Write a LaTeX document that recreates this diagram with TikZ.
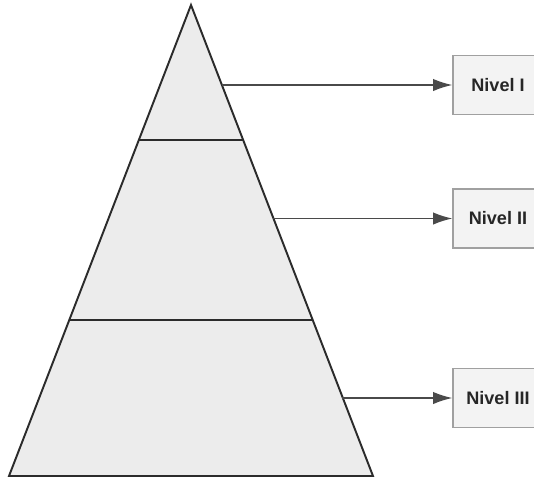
\documentclass[tikz,border=0pt]{standalone}
\usepackage{fontspec}
\newfontfamily\nivelfont{Liberation Sans}
\usetikzlibrary{arrows.meta}
\definecolor{pyrfill}{HTML}{ECECEC}
\definecolor{pyredge}{HTML}{2B2B2B}
\definecolor{boxfill}{HTML}{F3F3F3}
\definecolor{boxedge}{HTML}{A0A0A0}
\definecolor{arrowgray}{HTML}{4A4A4A}
\tikzset{
  nivel/.style={draw=boxedge, fill=boxfill, line width=0.6pt,
    minimum width=1.8cm, minimum height=1.18cm, inner sep=0pt,
    font=\nivelfont\bfseries\fontsize{10.3}{12}\selectfont, text=black!85},
  flecha/.style={draw=arrowgray, line width=0.9pt,
    -{Latex[length=11pt,width=7pt]}}
}
\begin{document}
\begin{tikzpicture}[x=0.02cm,y=-0.02cm]
\useasboundingbox (0,0) rectangle (534,478);
\clip (0,0) rectangle (534,478);
% Piramide
\coordinate (apex) at (191,5);
\coordinate (bl) at (9,476);
\coordinate (br) at (373,476);
\draw[fill=pyrfill, draw=pyredge, line width=1.1pt, line join=miter] (apex)--(br)--(bl)--cycle;
% Divisiones
\coordinate (d1l) at (139,140);
\coordinate (d1r) at (243,140);
\coordinate (d2l) at (70,320);
\coordinate (d2r) at (312,320);
\draw[pyredge, line width=1.1pt] (d1l)--(d1r);
\draw[pyredge, line width=1.1pt] (d2l)--(d2r);
% Niveles
\node[nivel] (n1) at (498,85) {Nivel I};
\node[nivel] (n2) at (498,218.5) {Nivel II};
\node[nivel] (n3) at (498,398) {Nivel III};
% Flechas
\coordinate (a1) at (221.5,85);
\coordinate (a2) at (273,218.5);
\coordinate (a3) at (342,398);
\draw[flecha] (a1)--(n1.west);
\draw[flecha] (a2)--(n2.west);
\draw[flecha] (a3)--(n3.west);
\end{tikzpicture}
\end{document}
